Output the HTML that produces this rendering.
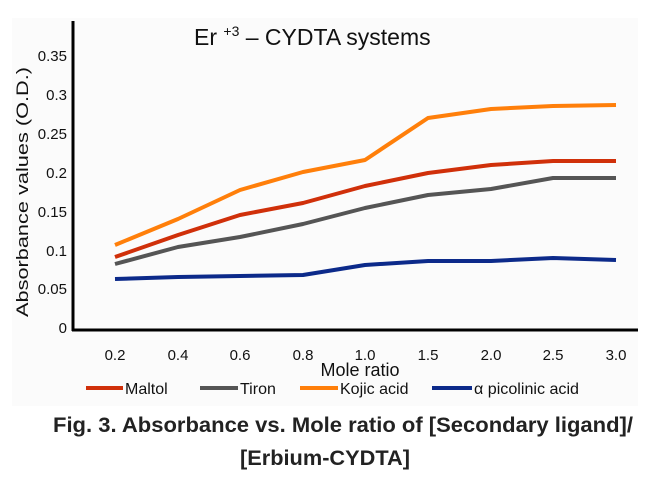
<!DOCTYPE html>
<html><head><style>
body{margin:0;background:#fff;}
svg text{font-family:"Liberation Sans",sans-serif;}
</style></head><body>
<svg width="656" height="474" viewBox="0 0 656 474" xmlns="http://www.w3.org/2000/svg">
<rect x="12" y="18" width="626" height="388" fill="#fbfbfb"/>
<text x="194" y="45" font-size="23" fill="#111">Er <tspan font-size="14" dy="-9">+3</tspan><tspan dy="9"> – CYDTA systems</tspan></text>
<g font-size="15" fill="#111" text-anchor="end">
<text x="67" y="333">0</text><text x="67" y="294">0.05</text><text x="67" y="256">0.1</text>
<text x="67" y="217">0.15</text><text x="67" y="178">0.2</text><text x="67" y="139">0.25</text>
<text x="67" y="100">0.3</text><text x="67" y="61">0.35</text>
</g>
<text transform="translate(28,192) rotate(-90)" font-size="17" text-anchor="middle" fill="#111" textLength="250" lengthAdjust="spacingAndGlyphs">Absorbance values (O.D.)</text>
<line x1="73" y1="21" x2="73" y2="331" stroke="#000" stroke-width="3"/>
<line x1="72" y1="330" x2="638" y2="330" stroke="#000" stroke-width="3"/>
<g font-size="15" fill="#111" text-anchor="middle">
<text x="115" y="360">0.2</text><text x="178" y="360">0.4</text><text x="240" y="360">0.6</text>
<text x="303" y="360">0.8</text><text x="365" y="360">1.0</text><text x="428" y="360">1.5</text>
<text x="491" y="360">2.0</text><text x="553" y="360">2.5</text><text x="616" y="360">3.0</text>
</g>
<text x="360" y="376" font-size="18" text-anchor="middle" fill="#111">Mole ratio</text>
<g fill="none" stroke-width="4" stroke-linejoin="round">
<polyline stroke="#ff7f0a" points="115,245 178,219 240,190 303,172 365,160 428,118 491,109 553,106 616,105"/>
<polyline stroke="#d0300a" points="115,257 178,235 240,215 303,203 365,186 428,173 491,165 553,161 616,161"/>
<polyline stroke="#555" points="115,264 178,247 240,237 303,224 365,208 428,195 491,189 553,178 616,178"/>
<polyline stroke="#0c2a8a" points="115,279 178,277 240,276 303,275 365,265 428,261 491,261 553,258 616,260"/>
</g>
<g font-size="16" fill="#111">
<line x1="86" y1="388" x2="123" y2="388" stroke="#d0300a" stroke-width="4"/><text x="125" y="394">Maltol</text>
<line x1="200" y1="388" x2="238" y2="388" stroke="#555" stroke-width="4"/><text x="240" y="394">Tiron</text>
<line x1="300" y1="388" x2="338" y2="388" stroke="#ff7f0a" stroke-width="4"/><text x="340" y="394">Kojic acid</text>
<line x1="432" y1="388" x2="472" y2="388" stroke="#0c2a8a" stroke-width="4"/><text x="474" y="394" textLength="105" lengthAdjust="spacingAndGlyphs">α picolinic acid</text>
</g>
<g font-size="21" font-weight="bold" fill="#222">
<text x="53" y="432" textLength="580" lengthAdjust="spacingAndGlyphs">Fig. 3. Absorbance vs. Mole ratio of [Secondary ligand]/</text>
<text x="240" y="465" textLength="170" lengthAdjust="spacingAndGlyphs">[Erbium-CYDTA]</text>
</g>
</svg>
</body></html>
